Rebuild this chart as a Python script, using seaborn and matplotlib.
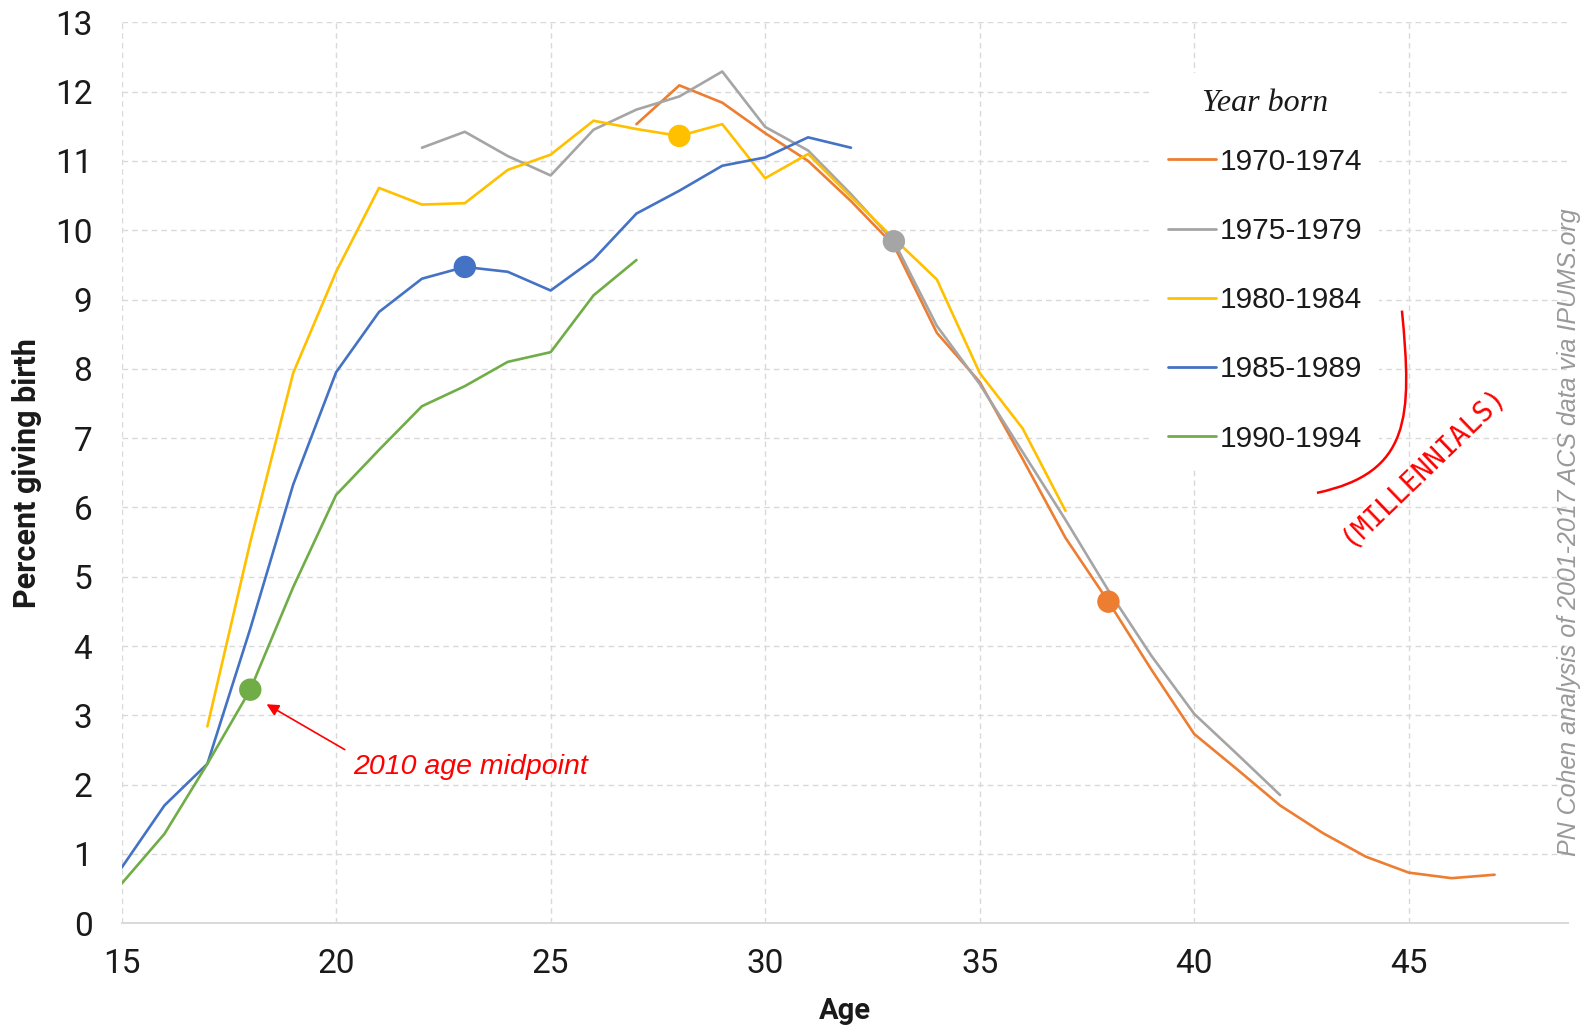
import numpy as np
import pandas as pd
import matplotlib
matplotlib.use("Agg")
import matplotlib.pyplot as plt
import seaborn as sns
from matplotlib.path import Path
from matplotlib.patches import PathPatch

# ---------------- data ----------------
cohorts = ["1970-1974", "1975-1979", "1980-1984", "1985-1989", "1990-1994"]

ages_1970 = list(range(27, 48))
rate_1970 = [11.53, 12.09, 11.84, 11.40, 11.00, 10.42, 9.78, 8.52, 7.81, 6.70,
             5.56, 4.64, 3.66, 2.73, 2.22, 1.70, 1.30, 0.96, 0.73, 0.65, 0.70]

ages_1975 = list(range(22, 43))
rate_1975 = [11.19, 11.42, 11.07, 10.79, 11.45, 11.74, 11.93, 12.29, 11.49, 11.15,
             10.52, 9.84, 8.62, 7.78, 6.80, 5.82, 4.80, 3.86, 3.02, 2.44, 1.85]

ages_1980 = list(range(17, 38))
rate_1980 = [2.84, 5.50, 7.94, 9.40, 10.61, 10.37, 10.39, 10.87, 11.09, 11.58,
             11.46, 11.36, 11.53, 10.75, 11.10, 10.48, 9.88, 9.29, 7.94, 7.14, 5.95]

ages_1985 = list(range(15, 33))
rate_1985 = [0.80, 1.70, 2.30, 4.25, 6.33, 7.95, 8.82, 9.30, 9.47, 9.40,
             9.13, 9.58, 10.24, 10.57, 10.93, 11.05, 11.34, 11.19]

ages_1990 = list(range(15, 28))
rate_1990 = [0.57, 1.29, 2.30, 3.37, 4.85, 6.18, 6.83, 7.46, 7.75, 8.10, 8.24, 9.06, 9.57]

midpoint_ages = [38, 33, 28, 23, 18]   # age in 2010 for each cohort

x_ticks = [15, 20, 25, 30, 35, 40, 45]
y_ticks = list(range(0, 14))

colors = ["#ED7D31", "#A5A5A5", "#FFC000", "#4472C4", "#70AD47"]

all_ages = [ages_1970, ages_1975, ages_1980, ages_1985, ages_1990]
all_rates = [rate_1970, rate_1975, rate_1980, rate_1985, rate_1990]

frames = []
for c, a, r in zip(cohorts, all_ages, all_rates):
    frames.append(pd.DataFrame({"Age": a, "Percent": r, "Cohort": c}))
df = pd.concat(frames, ignore_index=True)

mid_rows = []
for c, a, r, m in zip(cohorts, all_ages, all_rates, midpoint_ages):
    mid_rows.append({"Age": m, "Percent": r[a.index(m)], "Cohort": c})
mid_df = pd.DataFrame(mid_rows)

# ---------------- style ----------------
sns.set_theme(style="white")
plt.rcParams["font.family"] = ["Liberation Sans", "DejaVu Sans"]

fig = plt.figure(figsize=(15.89, 10.32), dpi=100)
ax = fig.add_axes([0.0765, 0.1054, 0.910, 0.873])

sns.lineplot(data=df, x="Age", y="Percent", hue="Cohort", hue_order=cohorts,
             palette=colors, linewidth=1.9, ax=ax, legend=True)
sns.scatterplot(data=mid_df, x="Age", y="Percent", hue="Cohort", hue_order=cohorts,
                palette=colors, s=260, edgecolor="none", linewidth=0,
                ax=ax, legend=False, zorder=5)

ax.set_xlim(15, 48.7)
ax.set_ylim(0, 13)
ax.set_xticks(x_ticks)
ax.set_yticks(y_ticks)
ax.set_axisbelow(True)
ax.grid(True, color="#D9D9D9", linestyle=(0, (4, 3)), linewidth=1.0)

for s in ["left", "top", "right"]:
    ax.spines[s].set_visible(False)
ax.spines["bottom"].set_color("#D9D9D9")
ax.spines["bottom"].set_linewidth(1.4)

tick_font = ["Roboto", "DejaVu Sans"]
ax.tick_params(axis="x", length=0, pad=18, labelsize=24, colors="#1a1a1a")
ax.tick_params(axis="y", length=0, pad=21, labelsize=24, colors="#1a1a1a")
for lab in ax.get_xticklabels() + ax.get_yticklabels():
    lab.set_fontfamily(tick_font)

label_font = ["Roboto", "DejaVu Sans"]
ax.set_xlabel("Age", fontsize=21, fontweight="bold", family=label_font,
              color="#1a1a1a", labelpad=12)
ax.set_ylabel("Percent giving birth", fontsize=22, fontweight="bold",
              family=label_font, color="#1a1a1a", labelpad=9)

# legend
handles, labels = ax.get_legend_handles_labels()
leg = ax.legend(handles, labels, title="Year born", loc="upper left",
                bbox_to_anchor=(0.7125, 0.944), frameon=True, fontsize=21.5,
                title_fontsize=23, handlelength=1.6, handletextpad=0.12,
                labelspacing=1.38, borderpad=0.55, borderaxespad=0)
leg._legend_box.sep = 21.3
leg.get_frame().set_facecolor("white")
leg.get_frame().set_edgecolor("none")
leg.get_frame().set_alpha(1.0)
leg.get_title().set_fontfamily(["Liberation Serif", "DejaVu Serif"])
leg.get_title().set_fontstyle("italic")
leg.get_title().set_color("#1a1a1a")
for t in leg.get_texts():
    t.set_color("#1a1a1a")
for h in leg.get_lines():
    h.set_linewidth(2.0)

# annotation
ax.annotate("2010 age midpoint", xy=(18.38, 3.16), xytext=(20.39, 2.25),
            color="red", fontstyle="italic", fontsize=20.5, va="center", ha="left",
            arrowprops=dict(arrowstyle="-|>", color="red", lw=1.2,
                            shrinkA=4, shrinkB=0, mutation_scale=18,
                            relpos=(0, 1)))

# millennials bracket
verts = [(44.84, 8.84), (45.08, 7.3), (45.05, 6.5), (42.86, 6.21)]
codes = [Path.MOVETO, Path.CURVE4, Path.CURVE4, Path.CURVE4]
ax.add_patch(PathPatch(Path(verts, codes), facecolor="none", edgecolor="red",
                       lw=1.8, zorder=6))
ax.text(45.33, 6.6, "(MILLENNIALS)", color="red", rotation=44, fontsize=20,
        family=["DejaVu Sans Mono"], ha="center", va="center",
        rotation_mode="anchor", zorder=6)

# source note
fig.text(0.9876, 0.4845, "PN Cohen analysis of 2001-2017 ACS data via IPUMS.org",
         rotation=90, color="#999999", fontstyle="italic", fontsize=18,
         ha="center", va="center")

fig.savefig("out.png", dpi=100)
